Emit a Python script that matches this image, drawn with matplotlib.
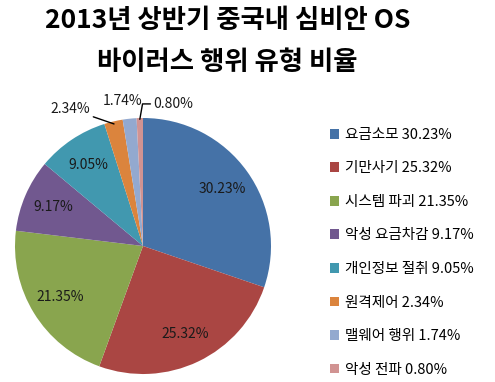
import matplotlib
matplotlib.use("Agg")
import matplotlib.pyplot as plt
import numpy as np

plt.rcParams['font.family'] = ['Noto Sans CJK KR', 'DejaVu Sans']

categories = ['요금소모', '기만사기', '시스템 파괴', '악성 요금차감',
              '개인정보 절취', '원격제어', '맬웨어 행위', '악성 전파']
values = [30.23, 25.32, 21.35, 9.17, 9.05, 2.34, 1.74, 0.80]
colors = ['#4572A7', '#AA4643', '#89A54E', '#71588F',
          '#4198AF', '#DB843D', '#93A9CF', '#D19392']

W, H = 495, 382
fig = plt.figure(figsize=(W / 100, H / 100), dpi=100)

# pie centre and radius in pixels
cx, cy, r = 143, 246, 128
ax = fig.add_axes([(cx - r) / W, (H - cy - r) / H, 2 * r / W, 2 * r / H])
wedges, _ = ax.pie(values, colors=colors, startangle=90, counterclock=False,
                   radius=1.0, wedgeprops=dict(linewidth=0))
ax.set_xlim(-1, 1)
ax.set_ylim(-1, 1)
ax.set_aspect('equal')
ax.axis('off')

for i, w in enumerate(wedges):
    ang = np.deg2rad((w.theta1 + w.theta2) / 2)
    txt = f'{values[i]:.2f}%'
    if i < 5:
        d = 0.76
        ax.text(d * np.cos(ang), d * np.sin(ang), txt, ha='center', va='center',
                fontsize=10, color='#1a1a1a')
    elif i == 5:
        ex, ey = 0.98 * np.cos(ang), 0.98 * np.sin(ang)
        ax.annotate(txt, xy=(ex, ey), xytext=(-0.41, 1.07), ha='right', va='center',
                    fontsize=10, color='#1a1a1a',
                    arrowprops=dict(arrowstyle='-', color='black', lw=1,
                                    shrinkA=0, shrinkB=0))
    elif i == 6:
        ax.text(-0.16, 1.13, txt, ha='center', va='center',
                fontsize=10, color='#1a1a1a')
    else:
        ex, ey = 0.99 * np.cos(ang), 0.99 * np.sin(ang)
        ax.annotate(txt, xy=(ex, ey), xytext=(0.08, 1.11), ha='left', va='center',
                    fontsize=10, color='#1a1a1a',
                    arrowprops=dict(arrowstyle='-', color='black', lw=1,
                                    shrinkA=0, shrinkB=0,
                                    connectionstyle='angle,angleA=0,angleB=80,rad=0'))

fig.text(0.46, 1 - 20 / H, '2013년 상반기 중국내 심비안 OS', ha='center', va='center',
         fontsize=19, fontweight='bold')
fig.text(0.46, 1 - 62 / H, '바이러스 행위 유형 비율', ha='center', va='center',
         fontsize=19, fontweight='bold')

labels = [f'{c} {v:.2f}%' for c, v in zip(categories, values)]
fig.legend(wedges, labels, loc='upper left', bbox_to_anchor=(324 / W, 1 - 122 / H),
           frameon=False, fontsize=10.5, handlelength=0.65, handleheight=0.65,
           handletextpad=0.4, labelspacing=1.34, borderaxespad=0)

fig.savefig('out.png', dpi=100)
